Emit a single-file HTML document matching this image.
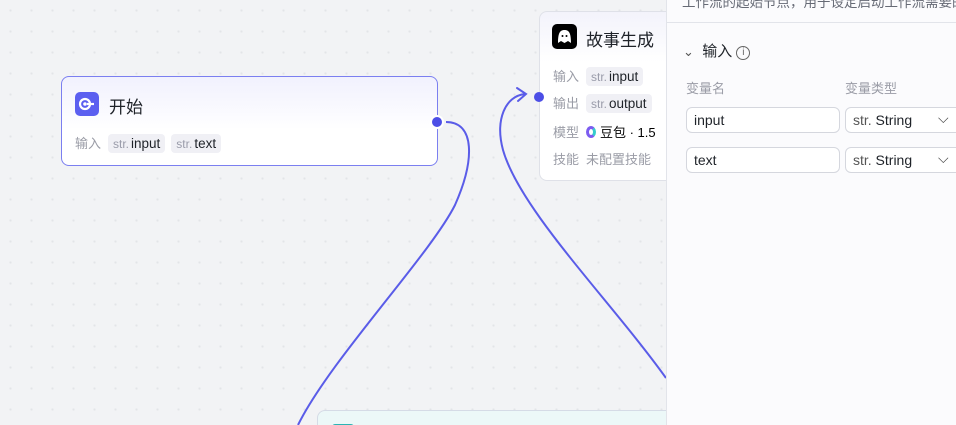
<!DOCTYPE html>
<html><head><meta charset="utf-8"><style>
*{box-sizing:border-box;margin:0;padding:0}
html,body{width:956px;height:425px;overflow:hidden}
body{position:relative;background:#f2f3f5;font-family:"Liberation Sans","Noto Sans CJK SC",sans-serif;
background-image:radial-gradient(#e3e4e8 1px,transparent 1.2px);background-size:21px 21px;}
.node{position:absolute;background:#fff;border-radius:8px;}
.tag{display:inline-block;background:#f0f0f5;border-radius:4px;padding:2px 5px;color:#1f2329;font-size:13.5px;margin-right:6px}
.tag i{font-style:normal;color:#9a9caa;font-size:12px;margin-right:2px}
.lbl{color:#9a9ca6;font-size:13px;display:inline-block;width:33px}
.row{position:absolute;left:13px;font-size:13px;white-space:nowrap}
.panel{position:absolute;left:666px;top:0;width:290px;height:425px;background:#fbfbfd;border-left:1px solid #e2e4ea}
.inp{position:absolute;height:26px;border:1px solid #d5d7de;border-radius:6px;background:#fff;font-size:14px;color:#1f2329;padding:4px 7px}
</style></head><body>
<svg width="956" height="425" style="position:absolute;left:0;top:0">
<path d="M446,122 C475,122 475,160 455,205 C430,255 330,360 298,425" stroke="#5a5ce8" stroke-width="2" fill="none"/>
<path d="M666,378 C610,300 520,210 503,150 C495,120 505,96 525,94" stroke="#5a5ce8" stroke-width="2" fill="none"/>
<path d="M517,88 L526,94 L518,101" stroke="#5a5ce8" stroke-width="2" fill="none" stroke-linecap="round"/>
</svg>
<div class="node" style="left:61px;top:76px;width:377px;height:90px;border:1px solid #7b7ff0;background:linear-gradient(#f1f1fe,#fff 60%)">
 <div style="position:absolute;left:13px;top:15px;width:24px;height:24px;background:#5b5ff0;border-radius:5px"><svg width="24" height="24"><circle cx="10" cy="12" r="5" stroke="#fff" stroke-width="2.2" fill="none"/><circle cx="10" cy="12" r="1.8" fill="#fff"/><path d="M12 12 H19" stroke="#fff" stroke-width="2.2"/></svg></div>
 <div style="position:absolute;left:47px;top:16px;font-size:17px;color:#1f2329">开始</div>
 <div class="row" style="top:56px"><span class="lbl">输入</span><span class="tag"><i>str.</i>input</span><span class="tag"><i>str.</i>text</span></div>
</div>
<div style="position:absolute;left:430px;top:115px;width:14px;height:14px;border-radius:50%;background:#4c4ee6;border:2px solid #fff"></div>
<div class="node" style="left:539px;top:11px;width:140px;height:170px;border:1px solid #dfe1e8;background:linear-gradient(#f3f3fb,#fff 30%)">
 <div style="position:absolute;left:12px;top:12px;width:25px;height:25px;background:#000;border-radius:5px"><svg width="25" height="25"><path d="M6 19 C6 9 8 6 12.5 6 C17 6 19 9 19 19 L16 17 L12.5 19 L9 17Z" fill="#fff"/><circle cx="10.5" cy="12" r="1" fill="#000"/><circle cx="14.5" cy="12" r="1" fill="#000"/></svg></div>
 <div style="position:absolute;left:46px;top:14px;font-size:17px;color:#1f2329">故事生成</div>
 <div class="row" style="top:54px"><span class="lbl">输入</span><span class="tag"><i>str.</i>input</span></div>
 <div class="row" style="top:81px"><span class="lbl">输出</span><span class="tag"><i>str.</i>output</span></div>
 <div class="row" style="top:110px"><span class="lbl">模型</span><span style="display:inline-block;width:10px;height:12px;border:3px solid #7c5cf0;border-radius:50%;vertical-align:-1px;margin-right:4px;border-right-color:#3cc"></span>豆包 · 1.5</div>
 <div class="row" style="top:137px"><span class="lbl">技能</span><span style="color:#9a9ca6">未配置技能</span></div>
</div>
<div style="position:absolute;left:534px;top:92px;width:10px;height:10px;border-radius:50%;background:#4c4ee6"></div>
<div class="node" style="left:317px;top:410px;width:360px;height:30px;border:1px solid #d5dbe6;background:#ecf8f8"><div style="position:absolute;left:14px;top:13px;width:22px;height:10px;background:#2bb5b5;border-radius:3px"></div></div>
<div class="panel">
 <div style="position:absolute;left:15px;top:-9px;font-size:13.5px;color:#666a75;white-space:nowrap">工作流的起始节点，用于设定启动工作流需要的</div>
 <div style="position:absolute;left:0;top:22px;width:290px;border-top:1px solid #e2e4ea"></div>
 <div style="position:absolute;left:16px;top:40px;font-size:15px;color:#1f2329"><span style="color:#555;font-size:13px">&#8964;</span>&nbsp;&nbsp;输入 <span style="display:inline-block;width:14px;height:14px;border:1px solid #666;border-radius:50%;font-size:10px;text-align:center;line-height:12px;color:#666;vertical-align:1px">i</span></div>
 <div style="position:absolute;left:19px;top:78px;font-size:13px;color:#9a9ca6">变量名</div>
 <div style="position:absolute;left:178px;top:78px;font-size:13px;color:#9a9ca6">变量类型</div>
 <div class="inp" style="left:19px;top:107px;width:154px">input</div>
 <div class="inp" style="left:178px;top:107px;width:120px"><span style="color:#555">str.</span> String <span style="position:absolute;left:92px;top:2px;color:#444">⌵</span></div>
 <div class="inp" style="left:19px;top:147px;width:154px">text</div>
 <div class="inp" style="left:178px;top:147px;width:120px"><span style="color:#555">str.</span> String <span style="position:absolute;left:92px;top:2px;color:#444">⌵</span></div>
</div>
</body></html>
